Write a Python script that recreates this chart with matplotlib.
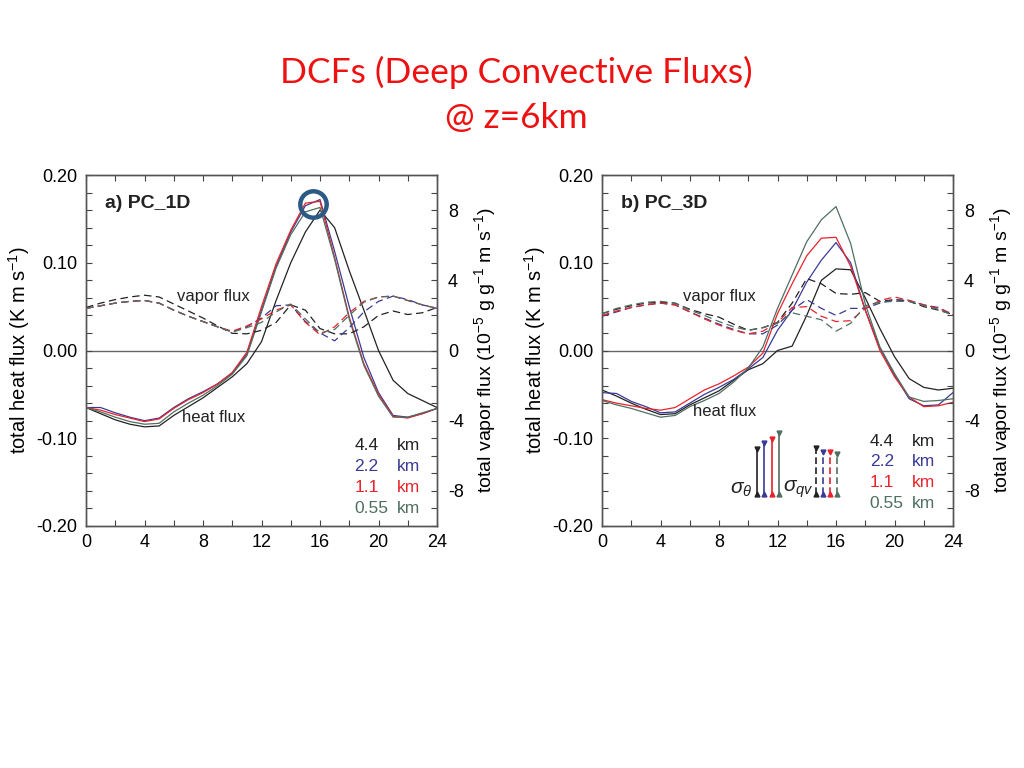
import matplotlib
matplotlib.use("Agg")
import matplotlib.pyplot as plt
from matplotlib.ticker import MultipleLocator, FixedLocator

plt.rcParams["font.family"] = ["Liberation Sans", "DejaVu Sans"]
plt.rcParams["mathtext.fontset"] = "custom"
plt.rcParams["mathtext.rm"] = "Liberation Sans"
plt.rcParams["mathtext.it"] = "Liberation Sans:italic"
plt.rcParams["mathtext.bf"] = "Liberation Sans:bold"
plt.rcParams["mathtext.default"] = "regular"
plt.rcParams["axes.unicode_minus"] = False

# hour of day
hours = list(range(25))

# ---- a) PC_1D, total heat flux (K m/s)
heat_1d_44 = [-0.065, -0.072, -0.079, -0.084, -0.087, -0.086, -0.074, -0.064, -0.054, -0.042,
              -0.030, -0.015, 0.010, 0.057, 0.100, 0.135, 0.160, 0.140, 0.091, 0.046,
              0.000, -0.034, -0.049, -0.057, -0.065]
heat_1d_22 = [-0.065, -0.065, -0.071, -0.076, -0.080, -0.077, -0.065, -0.055, -0.047, -0.038,
              -0.026, -0.004, 0.046, 0.096, 0.135, 0.165, 0.172, 0.113, 0.050, -0.008,
              -0.048, -0.074, -0.076, -0.072, -0.066]
heat_1d_11 = [-0.065, -0.068, -0.073, -0.077, -0.081, -0.078, -0.066, -0.056, -0.048, -0.038,
              -0.025, -0.002, 0.050, 0.099, 0.137, 0.168, 0.170, 0.106, 0.038, -0.015,
              -0.050, -0.075, -0.077, -0.072, -0.066]
heat_1d_055 = [-0.065, -0.070, -0.076, -0.081, -0.084, -0.083, -0.070, -0.060, -0.051, -0.040,
               -0.027, -0.006, 0.044, 0.094, 0.132, 0.158, 0.163, 0.104, 0.036, -0.017,
               -0.052, -0.076, -0.076, -0.071, -0.066]

# ---- a) PC_1D, total vapor flux (1e-5 g/g m/s)
vap_1d_44 = [2.45, 2.70, 2.90, 3.05, 3.15, 3.05, 2.65, 2.25, 1.85, 1.40,
             0.98, 0.95, 1.15, 1.60, 2.60, 2.30, 1.25, 0.95, 0.95, 1.35,
             2.00, 2.25, 2.05, 2.15, 2.45]
vap_1d_22 = [2.40, 2.55, 2.70, 2.80, 2.85, 2.70, 2.30, 1.95, 1.65, 1.35,
             1.05, 1.35, 1.85, 2.55, 2.60, 1.65, 1.00, 0.55, 1.30, 2.20,
             2.80, 3.10, 2.90, 2.60, 2.40]
vap_1d_11 = [2.40, 2.55, 2.70, 2.80, 2.85, 2.70, 2.30, 1.95, 1.65, 1.35,
             1.10, 1.40, 1.80, 2.30, 2.60, 1.60, 0.90, 1.35, 2.15, 2.80,
             3.05, 3.10, 2.85, 2.60, 2.40]
vap_1d_055 = [2.40, 2.55, 2.70, 2.80, 2.85, 2.70, 2.30, 1.95, 1.65, 1.35,
              1.05, 1.30, 1.60, 2.20, 2.65, 1.80, 1.00, 1.20, 2.00, 2.75,
              3.05, 3.10, 2.85, 2.60, 2.40]

# ---- b) PC_3D, total heat flux
heat_3d_44 = [-0.045, -0.052, -0.060, -0.067, -0.073, -0.072, -0.062, -0.054, -0.046, -0.034,
              -0.022, -0.015, 0.000, 0.005, 0.040, 0.080, 0.093, 0.092, 0.060, 0.025,
              -0.007, -0.032, -0.042, -0.045, -0.043]
heat_3d_22 = [-0.048, -0.049, -0.058, -0.064, -0.071, -0.070, -0.060, -0.050, -0.042, -0.033,
              -0.021, -0.008, 0.023, 0.046, 0.078, 0.103, 0.123, 0.100, 0.046, 0.003,
              -0.028, -0.055, -0.063, -0.062, -0.048]
heat_3d_11 = [-0.056, -0.060, -0.063, -0.066, -0.068, -0.065, -0.055, -0.045, -0.038, -0.029,
              -0.019, -0.003, 0.042, 0.076, 0.108, 0.128, 0.129, 0.096, 0.046, 0.000,
              -0.030, -0.053, -0.064, -0.063, -0.059]
heat_3d_055 = [-0.057, -0.062, -0.066, -0.071, -0.076, -0.074, -0.064, -0.057, -0.049, -0.036,
               -0.020, 0.004, 0.048, 0.086, 0.124, 0.149, 0.164, 0.122, 0.053, 0.004,
               -0.026, -0.053, -0.058, -0.057, -0.055]

# ---- b) PC_3D, total vapor flux
vap_3d_44 = [2.10, 2.35, 2.55, 2.70, 2.75, 2.70, 2.35, 2.10, 1.90, 1.50,
             1.15, 1.30, 1.60, 2.70, 4.10, 3.80, 3.25, 3.20, 3.30, 2.80,
             2.90, 2.80, 2.50, 2.30, 2.05]
vap_3d_22 = [1.95, 2.20, 2.45, 2.60, 2.70, 2.60, 2.20, 1.85, 1.50, 1.20,
             0.95, 0.95, 1.45, 2.30, 2.90, 2.40, 2.00, 2.40, 2.40, 2.70,
             2.90, 2.85, 2.60, 2.45, 2.05]
vap_3d_11 = [2.00, 2.25, 2.45, 2.60, 2.70, 2.60, 2.20, 1.80, 1.45, 1.15,
             0.95, 1.10, 1.60, 2.45, 2.50, 1.95, 1.65, 1.70, 2.40, 2.85,
             3.05, 2.85, 2.60, 2.40, 2.05]
vap_3d_055 = [2.10, 2.40, 2.60, 2.75, 2.80, 2.70, 2.30, 2.00, 1.65, 1.35,
              1.15, 1.30, 1.55, 2.15, 1.95, 1.75, 1.10, 1.55, 2.55, 2.75,
              2.80, 2.80, 2.55, 2.35, 2.00]

# standard deviation bars in panel b
sig_theta_x = [10.6, 11.1, 11.6, 12.1]
sig_theta_top = [-0.112, -0.105, -0.101, -0.094]
sig_qv_x = [14.6, 15.1, 15.6, 16.1]
sig_qv_top = [-0.111, -0.116, -0.116, -0.118]
sig_bottom = -0.163

# highlighted peak in panel a
peak_hour, peak_value = 15.5, 0.167

res_labels = ["4.4", "2.2", "1.1", "0.55"]
colors = ["#222222", "#3a3a96", "#e8232b", "#4f6f60"]

fig = plt.figure(figsize=(10.24, 7.68), dpi=100)
W, H = 1024.0, 768.0

fig.text(516 / W, 1 - 72 / H, "DCFs (Deep Convective Fluxs)", color="#ee1111",
         family="Lato", fontsize=25.5, ha="center", va="center")
fig.text(516 / W, 1 - 118 / H, "@ z=6km", color="#ee1111",
         family="Lato", fontsize=25.5, ha="center", va="center")


def draw_panel(left, title, heats, vaps, legend_xy, vap_lbl, heat_lbl):
    ax = fig.add_axes([left / W, (H - 526) / H, 351 / W, 351 / H])
    ax2 = ax.twinx()
    ax.set_xlim(0, 24)
    ax.set_ylim(-0.2, 0.2)
    ax2.set_ylim(-10, 10)

    ax.axhline(0, color="#666666", lw=1.0, zorder=1)
    for h, c in zip(heats, colors):
        ax.plot(hours, h, color=c, lw=0.9, zorder=3)
    for v, c in zip(vaps, colors):
        ax2.plot(hours, v, color=c, lw=0.9, ls=(0, (6, 3.5)), zorder=3)

    ax.xaxis.set_major_locator(MultipleLocator(4))
    ax.xaxis.set_minor_locator(MultipleLocator(2))
    ax.yaxis.set_major_locator(FixedLocator([-0.2, -0.1, 0.0, 0.1, 0.2]))
    ax.yaxis.set_minor_locator(MultipleLocator(0.02))
    ax.yaxis.set_major_formatter(plt.FormatStrFormatter("%.2f"))
    ax.tick_params(which="both", direction="in", length=4.5, width=0.8,
                   top=True, color="#444444", labelsize=13, pad=6)
    ax2.yaxis.set_major_locator(FixedLocator([-8, -4, 0, 4, 8]))
    ax2.yaxis.set_minor_locator(MultipleLocator(1))
    ax2.tick_params(which="both", direction="in", length=4.5, width=0.8,
                    color="#444444", labelsize=13, pad=8)
    for a in (ax, ax2):
        for s in a.spines.values():
            s.set_color("#555555")
            s.set_linewidth(1.0)

    ax.set_ylabel(r"total heat flux (K m s$^{-1}$)", fontsize=14.5, labelpad=3)
    ax2.set_ylabel(r"total vapor flux (10$^{-5}$ g g$^{-1}$ m s$^{-1}$)",
                   fontsize=14, labelpad=6)

    ax.text(0.055, 0.92, title, transform=ax.transAxes, fontsize=14,
            fontweight="bold", ha="left", va="center", color="#222222")
    ax.text(vap_lbl[0], vap_lbl[1], "vapor flux", fontsize=12, ha="center",
            va="center", color="#222222")
    ax.text(heat_lbl[0], heat_lbl[1], "heat flux", fontsize=12, ha="center",
            va="center", color="#222222")

    lx0, lx1, ly, dy = legend_xy
    for i, (lab, c) in enumerate(zip(res_labels, colors)):
        ax.text(lx0, ly - i * dy, lab, transform=ax.transAxes, color=c,
                fontsize=12.5, ha="left", va="center")
        ax.text(lx1, ly - i * dy, "km", transform=ax.transAxes, color=c,
                fontsize=12.5, ha="right", va="center")
    return ax


axa = draw_panel(86, "a) PC_1D",
                 [heat_1d_44, heat_1d_22, heat_1d_11, heat_1d_055],
                 [vap_1d_44, vap_1d_22, vap_1d_11, vap_1d_055],
                 (0.765, 0.952, 0.228, 0.059), (8.7, 0.062), (8.7, -0.076))
axa.plot([peak_hour], [peak_value], marker="o", ms=19, mfc="none",
         mec="#2b5a84", mew=3.2, zorder=5)

axb = draw_panel(602, "b) PC_3D",
                 [heat_3d_44, heat_3d_22, heat_3d_11, heat_3d_055],
                 [vap_3d_44, vap_3d_22, vap_3d_11, vap_3d_055],
                 (0.763, 0.950, 0.242, 0.059), (8.0, 0.062), (8.4, -0.069))

for x, top, c in zip(sig_theta_x, sig_theta_top, colors):
    axb.plot([x, x], [sig_bottom, top], color=c, lw=1.2, zorder=4)
    axb.plot([x], [top], marker="v", ms=3.5, color=c, zorder=4)
    axb.plot([x], [sig_bottom], marker="^", ms=3.5, color=c, zorder=4)
for x, top, c in zip(sig_qv_x, sig_qv_top, colors):
    axb.plot([x, x], [sig_bottom, top], color=c, lw=1.2, ls=(0, (4, 2)), zorder=4)
    axb.plot([x], [top], marker="v", ms=3.5, color=c, zorder=4)
    axb.plot([x], [sig_bottom], marker="^", ms=3.5, color=c, zorder=4)
axb.text(10.3, -0.158, r"$\mathit{\sigma_\theta}$", fontsize=15, ha="right",
         va="center", color="#222222", family="DejaVu Sans", style="italic")
axb.text(14.45, -0.158, r"$\mathit{\sigma_{qv}}$", fontsize=15, ha="right",
         va="center", color="#222222", family="DejaVu Sans", style="italic")

fig.savefig("out.png", dpi=100)
